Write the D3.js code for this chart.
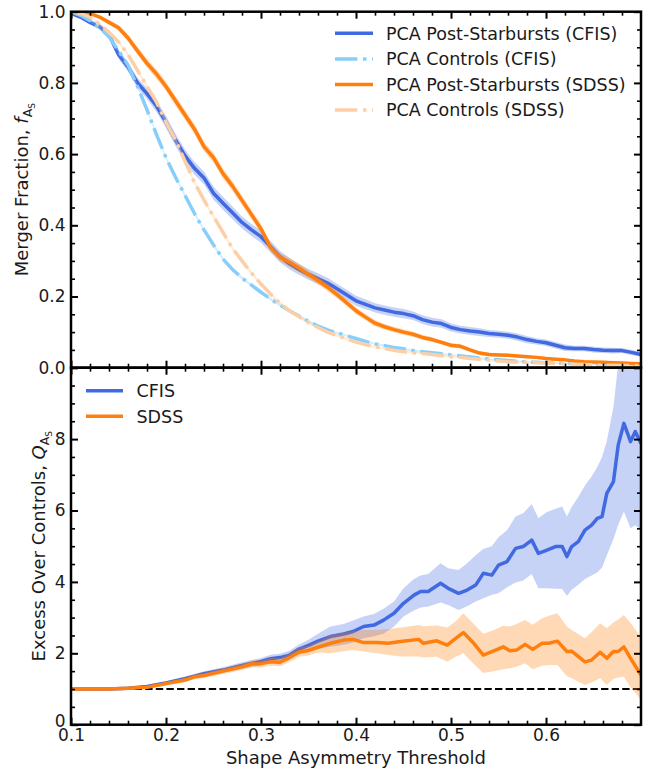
<!DOCTYPE html>
<html><head><meta charset="utf-8">
<script src="https://cdn.jsdelivr.net/npm/d3@7"></script>
<style>
html,body{margin:0;padding:0;background:#fff;}
svg{display:block;font-family:"DejaVu Sans",sans-serif;}
</style></head>
<body><svg id="c" width="660" height="775"></svg>
<script>
// ---------------- DATA ----------------
const thresholds = [0.10,0.11,0.12,0.13,0.14,0.15,0.16,0.17,0.18,0.19,0.20,0.21,0.22,0.23,0.24,0.25,0.26,0.27,0.28,0.29,0.30,0.31,0.32,0.33,0.34,0.35,0.36,0.37,0.38,0.39,0.40,0.41,0.42,0.43,0.44,0.45,0.46,0.47,0.48,0.49,0.50,0.51,0.52,0.53,0.54,0.55,0.56,0.57,0.58,0.59,0.60,0.61,0.62,0.63,0.64,0.65,0.66,0.67,0.68,0.69,0.70];

const fPsbCfis = [0.995,0.985,0.97,0.958,0.935,0.88,0.845,0.80,0.77,0.735,
  0.69,0.64,0.595,0.56,0.533,0.49,0.462,0.435,0.408,0.387,
  0.368,0.34,0.312,0.292,0.276,0.262,0.25,0.238,0.222,0.205,
  0.188,0.178,0.168,0.162,0.156,0.152,0.146,0.135,0.128,0.124,
  0.113,0.107,0.103,0.10,0.096,0.094,0.091,0.086,0.079,0.074,
  0.07,0.063,0.056,0.054,0.054,0.051,0.049,0.048,0.048,0.043,0.037];
const errPsbCfis = [0.002,0.004,0.006,0.008,0.010,0.012,0.013,0.014,0.015,0.016,
  0.017,0.017,0.018,0.018,0.018,0.018,0.018,0.018,0.017,0.017,
  0.017,0.016,0.016,0.016,0.015,0.015,0.015,0.015,0.014,0.014,
  0.014,0.014,0.013,0.013,0.013,0.013,0.012,0.012,0.012,0.012,
  0.011,0.011,0.011,0.011,0.010,0.010,0.010,0.010,0.010,0.009,
  0.009,0.009,0.009,0.008,0.008,0.008,0.008,0.008,0.007,0.007,0.007];

const fCtrlCfis = [1.0,0.99,0.975,0.955,0.93,0.89,0.85,0.79,0.724,0.655,
  0.59,0.535,0.484,0.433,0.387,0.345,0.305,0.276,0.252,0.232,
  0.212,0.193,0.176,0.16,0.145,0.13,0.117,0.106,0.098,0.09,
  0.082,0.074,0.067,0.062,0.057,0.053,0.048,0.045,0.042,0.039,
  0.036,0.033,0.03,0.027,0.024,0.022,0.02,0.018,0.016,0.015,
  0.014,0.013,0.012,0.011,0.010,0.009,0.008,0.008,0.007,0.007,0.006];
const errCtrlCfis = [0.001,0.002,0.003,0.004,0.004,0.005,0.005,0.005,0.005,0.005,
  0.005,0.005,0.005,0.005,0.005,0.005,0.005,0.005,0.005,0.004,
  0.004,0.004,0.004,0.004,0.004,0.004,0.004,0.004,0.003,0.003,
  0.003,0.003,0.003,0.003,0.003,0.003,0.003,0.003,0.003,0.003,
  0.002,0.002,0.002,0.002,0.002,0.002,0.002,0.002,0.002,0.002,
  0.002,0.002,0.002,0.002,0.002,0.002,0.002,0.002,0.002,0.002,0.002];

const fPsbSdss = [1.0,1.0,0.995,0.985,0.97,0.955,0.926,0.89,0.855,0.825,
  0.79,0.75,0.71,0.67,0.621,0.59,0.545,0.51,0.47,0.43,
  0.39,0.338,0.31,0.296,0.28,0.262,0.245,0.226,0.205,0.183,
  0.16,0.142,0.125,0.115,0.107,0.10,0.094,0.085,0.079,0.071,
  0.063,0.06,0.05,0.041,0.037,0.036,0.035,0.033,0.031,0.029,
  0.026,0.024,0.022,0.019,0.017,0.016,0.015,0.014,0.013,0.012,0.011];
const errPsbSdss = [0.001,0.002,0.003,0.005,0.007,0.008,0.010,0.011,0.012,0.013,
  0.013,0.014,0.014,0.014,0.014,0.014,0.014,0.014,0.014,0.013,
  0.013,0.013,0.012,0.012,0.012,0.011,0.011,0.011,0.010,0.010,
  0.010,0.009,0.009,0.008,0.008,0.008,0.007,0.007,0.007,0.006,
  0.006,0.006,0.005,0.005,0.005,0.005,0.004,0.004,0.004,0.004,
  0.004,0.003,0.003,0.003,0.003,0.003,0.003,0.003,0.002,0.002,0.002];

const fCtrlSdss = [1.0,0.995,0.985,0.965,0.942,0.915,0.88,0.835,0.79,0.746,
  0.69,0.64,0.58,0.52,0.471,0.425,0.38,0.335,0.30,0.266,
  0.235,0.207,0.181,0.16,0.143,0.127,0.113,0.10,0.09,0.081,
  0.072,0.065,0.059,0.054,0.049,0.045,0.042,0.04,0.037,0.034,
  0.031,0.029,0.026,0.024,0.021,0.019,0.017,0.016,0.015,0.014,
  0.013,0.012,0.011,0.010,0.009,0.008,0.007,0.007,0.006,0.006,0.005];
const errCtrlSdss = [0.001,0.002,0.003,0.004,0.005,0.005,0.005,0.006,0.006,0.006,
  0.006,0.006,0.006,0.006,0.006,0.006,0.006,0.005,0.005,0.005,
  0.005,0.005,0.005,0.004,0.004,0.004,0.004,0.004,0.004,0.004,
  0.003,0.003,0.003,0.003,0.003,0.003,0.003,0.003,0.003,0.003,
  0.002,0.002,0.002,0.002,0.002,0.002,0.002,0.002,0.002,0.002,
  0.002,0.002,0.002,0.002,0.002,0.002,0.002,0.002,0.002,0.002,0.002];

// Excess over controls (bottom panel)
const qxCfis = [0.10,0.12,0.14,0.16,0.18,0.20,0.22,0.24,0.26,0.28,0.30,0.31,0.32,0.33,0.34,0.35,0.36,0.373,0.387,0.397,0.408,0.419,0.429,0.440,0.450,0.461,0.468,0.476,0.489,0.497,0.508,0.517,0.526,0.534,0.543,0.550,0.559,0.568,0.576,0.585,0.592,0.601,0.610,0.617,0.622,0.627,0.634,0.641,0.648,0.654,0.659,0.664,0.671,0.676,0.682,0.689,0.694,0.70];
const qCfis   = [1.0,1.0,1.0,1.02,1.07,1.17,1.29,1.43,1.53,1.66,1.77,1.85,1.88,1.95,2.12,2.22,2.34,2.47,2.54,2.61,2.75,2.79,2.93,3.12,3.40,3.63,3.73,3.73,3.96,3.82,3.68,3.77,3.91,4.24,4.19,4.47,4.57,4.94,4.99,5.17,4.80,4.89,4.99,4.99,4.71,4.99,5.13,5.45,5.59,5.78,5.83,6.48,6.81,7.83,8.44,7.93,8.21,7.88];
const qLoCfis = [1.0,0.99,0.98,0.99,1.03,1.12,1.23,1.36,1.45,1.57,1.67,1.74,1.77,1.83,1.99,2.06,2.14,2.18,2.24,2.30,2.42,2.48,2.55,2.75,3.03,3.20,3.28,3.31,3.42,3.35,3.21,3.32,3.45,3.54,3.64,3.68,3.85,3.98,4.04,4.22,3.82,3.82,3.81,3.80,3.61,3.78,3.92,4.08,4.18,4.26,4.40,4.75,5.20,5.60,5.97,5.50,5.59,5.45];
const qHiCfis = [1.0,1.01,1.02,1.05,1.11,1.22,1.35,1.50,1.61,1.75,1.87,1.96,1.99,2.07,2.25,2.38,2.55,2.75,2.82,2.92,3.03,3.10,3.25,3.45,3.82,4.08,4.18,4.22,4.52,4.38,4.33,4.52,4.75,4.92,5.00,5.25,5.45,5.83,5.92,6.18,5.78,5.96,6.05,6.11,5.83,6.10,6.38,6.70,6.95,7.22,7.50,7.95,8.90,10.1,11.0,11.0,11.0,11.0];

const qxSdss = [0.10,0.12,0.14,0.16,0.18,0.20,0.22,0.23,0.24,0.26,0.28,0.29,0.30,0.31,0.32,0.33,0.34,0.35,0.36,0.373,0.387,0.397,0.408,0.422,0.434,0.447,0.466,0.471,0.485,0.496,0.505,0.513,0.524,0.534,0.545,0.555,0.562,0.569,0.578,0.586,0.596,0.603,0.612,0.622,0.627,0.641,0.648,0.657,0.664,0.671,0.676,0.682,0.689,0.70];
const qSdss   = [1.0,1.0,1.0,1.02,1.05,1.15,1.25,1.34,1.38,1.50,1.62,1.70,1.71,1.76,1.75,1.88,2.03,2.08,2.17,2.28,2.37,2.39,2.30,2.30,2.28,2.33,2.39,2.28,2.35,2.23,2.42,2.58,2.28,1.95,2.07,2.18,2.07,2.09,2.25,2.11,2.28,2.28,2.34,2.05,2.06,1.76,1.81,2.03,1.86,2.05,2.05,2.18,1.86,1.39];
const qLoSdss = [1.0,0.99,0.98,0.99,1.01,1.10,1.19,1.27,1.31,1.42,1.53,1.60,1.61,1.65,1.64,1.76,1.90,1.94,2.02,2.00,2.06,2.09,2.05,2.00,1.95,1.91,1.91,1.88,1.90,1.76,1.90,2.00,1.70,1.45,1.50,1.55,1.58,1.62,1.72,1.55,1.65,1.67,1.67,1.36,1.30,1.11,1.18,1.30,1.11,1.28,1.32,1.34,1.05,0.70];
const qHiSdss = [1.0,1.01,1.02,1.05,1.09,1.20,1.31,1.41,1.45,1.58,1.71,1.80,1.81,1.87,1.86,2.00,2.16,2.22,2.33,2.51,2.58,2.62,2.65,2.65,2.68,2.72,2.79,2.76,2.78,2.72,2.90,3.12,2.82,2.55,2.65,2.77,2.75,2.82,2.93,2.80,2.98,3.05,3.12,2.75,2.65,2.42,2.60,2.84,2.70,2.86,2.95,3.07,2.85,2.45];

const xTickVals = [0.1,0.2,0.3,0.4,0.5,0.6];
const topYTickVals = [0.0,0.2,0.4,0.6,0.8,1.0];
const botYTickVals = [0,2,4,6,8,10];
const botYTickLabels = ["0","2","4","6","8",""];

const topLegend = ["PCA Post-Starbursts (CFIS)","PCA Controls (CFIS)","PCA Post-Starbursts (SDSS)","PCA Controls (SDSS)"];
const botLegend = ["CFIS","SDSS"];

// ---------------- STYLE / LAYOUT ----------------
const C_BLUE = "#4169e1", C_LBLUE = "#87cefa", C_ORANGE = "#ff7f0e", C_PEACH = "#fdcfa6";
const L = 71, R = 641, T1 = 11.7, B1 = 367.7, T2 = 367.7, B2 = 724.7;
const TXT = "#1a1a1a";
const FS_TICK = 17, FS_LAB = 18, FS_LEG = 17.5;
const DASHDOT = "22.4,5.6,3.5,5.6";

const svg = d3.select("#c");
const x = d3.scaleLinear().domain([0.1, 0.7]).range([L, R]);
const yTop = d3.scaleLinear().domain([0, 1]).range([B1, T1]);
const yBot = d3.scaleLinear().domain([0, 10]).range([B2, T2]);

const defs = svg.append("defs");
defs.append("clipPath").attr("id","clipTop").append("rect").attr("x",L).attr("y",T1).attr("width",R-L).attr("height",B1-T1);
defs.append("clipPath").attr("id","clipBot").append("rect").attr("x",L).attr("y",T2).attr("width",R-L).attr("height",B2-T2);

// ---------- top panel ----------
const gTop = svg.append("g").attr("clip-path","url(#clipTop)");
function topSeries(vals, errs, color, bandOpacity, dash) {
  const pts = thresholds.map((t,i)=>({x:t, y:vals[i], e:errs[i]}));
  gTop.append("path").datum(pts)
    .attr("d", d3.area().x(d=>x(d.x)).y0(d=>yTop(d.y-d.e)).y1(d=>yTop(Math.min(d.y+d.e,1.02))))
    .attr("fill", color).attr("fill-opacity", bandOpacity).attr("stroke","none");
  gTop.append("path").datum(pts)
    .attr("d", d3.line().x(d=>x(d.x)).y(d=>yTop(d.y)))
    .attr("fill","none").attr("stroke",color).attr("stroke-width",3.5)
    .attr("stroke-dasharray", dash || null).attr("stroke-linejoin","round");
}
topSeries(fPsbCfis, errPsbCfis, C_BLUE, 0.3);
topSeries(fCtrlCfis, errCtrlCfis, C_LBLUE, 0.35, DASHDOT);
topSeries(fPsbSdss, errPsbSdss, C_ORANGE, 0.3);
topSeries(fCtrlSdss, errCtrlSdss, C_PEACH, 0.4, DASHDOT);

// ---------- bottom panel ----------
const gBot = svg.append("g").attr("clip-path","url(#clipBot)");
gBot.append("line").attr("x1",x(0.1)).attr("x2",x(0.7)).attr("y1",yBot(1)).attr("y2",yBot(1))
  .attr("stroke","#000").attr("stroke-width",2).attr("stroke-dasharray","7.4,3.2");
function botSeries(xs, q, lo, hi, color, bandColor, bandOpacity) {
  const pts = xs.map((t,i)=>({x:t, q:q[i], lo:lo[i], hi:hi[i]}));
  gBot.append("path").datum(pts)
    .attr("d", d3.area().x(d=>x(d.x)).y0(d=>yBot(d.lo)).y1(d=>yBot(d.hi)))
    .attr("fill", bandColor).attr("fill-opacity", bandOpacity);
  gBot.append("path").datum(pts)
    .attr("d", d3.line().x(d=>x(d.x)).y(d=>yBot(d.q)))
    .attr("fill","none").attr("stroke",color).attr("stroke-width",3.5).attr("stroke-linejoin","round");
}
botSeries(qxCfis, qCfis, qLoCfis, qHiCfis, C_BLUE, C_BLUE, 0.3);
botSeries(qxSdss, qSdss, qLoSdss, qHiSdss, C_ORANGE, C_ORANGE, 0.3);

// ---------- axes ----------
function styleAxis(g) {
  g.select(".domain").remove();
  g.selectAll(".tick line").attr("stroke","#000");
  g.selectAll(".tick text").attr("fill",TXT).attr("font-size",FS_TICK).attr("font-family","DejaVu Sans");
}
function addAxis(axisFn, scale, vals, pos, major, labels) {
  const ax = axisFn(scale).tickValues(vals).tickSizeInner(major ? -7 : -4).tickSizeOuter(0);
  if (labels === null) ax.tickFormat(()=>"");
  else ax.tickFormat(labels);
  const g = svg.append("g").attr("transform", pos).call(ax);
  styleAxis(g);
  g.selectAll(".tick line").attr("stroke-width", major ? 2 : 1.6);
  return g;
}
// minor tick positions
const xMinor = [0.12,0.14,0.16,0.18,0.22,0.24,0.26,0.28,0.32,0.34,0.36,0.38,0.42,0.44,0.46,0.48,0.52,0.54,0.56,0.58,0.62,0.64,0.66,0.68];
const topYMinor = [0.05,0.1,0.15,0.25,0.3,0.35,0.45,0.5,0.55,0.65,0.7,0.75,0.85,0.9,0.95];
const botYMinor = [0.5,1,1.5,2.5,3,3.5,4.5,5,5.5,6.5,7,7.5,8.5,9,9.5];

// top panel
addAxis(d3.axisLeft, yTop, topYTickVals, `translate(${L},0)`, true, d3.format(".1f")).call(g=>g.selectAll(".tick text").attr("x",-5.5));
addAxis(d3.axisLeft, yTop, topYMinor, `translate(${L},0)`, false, null);
addAxis(d3.axisRight, yTop, topYTickVals, `translate(${R},0)`, true, null);
addAxis(d3.axisRight, yTop, topYMinor, `translate(${R},0)`, false, null);
addAxis(d3.axisTop, x, xTickVals, `translate(0,${T1})`, true, null);
addAxis(d3.axisTop, x, xMinor, `translate(0,${T1})`, false, null);
addAxis(d3.axisBottom, x, xTickVals, `translate(0,${B1})`, true, null);
addAxis(d3.axisBottom, x, xMinor, `translate(0,${B1})`, false, null);
// bottom panel
addAxis(d3.axisLeft, yBot, botYTickVals, `translate(${L},0)`, true, (d,i)=>botYTickLabels[i])
  .call(g=>g.selectAll(".tick text").attr("x",-5.5).attr("dy",(d)=> d===0 ? "0.1em" : "0.32em"));
addAxis(d3.axisLeft, yBot, botYMinor, `translate(${L},0)`, false, null);
addAxis(d3.axisRight, yBot, botYTickVals, `translate(${R},0)`, true, null);
addAxis(d3.axisRight, yBot, botYMinor, `translate(${R},0)`, false, null);
addAxis(d3.axisTop, x, xTickVals, `translate(0,${T2})`, true, null);
addAxis(d3.axisTop, x, xMinor, `translate(0,${T2})`, false, null);
addAxis(d3.axisBottom, x, xTickVals, `translate(0,${B2})`, true, d3.format(".1f")).call(g=>g.selectAll(".tick text").attr("y",4.5));
addAxis(d3.axisBottom, x, xMinor, `translate(0,${B2})`, false, null);

// spines
[[T1,B1],[T2,B2]].forEach(([t,b])=>{
  svg.append("rect").attr("x",L).attr("y",t).attr("width",R-L).attr("height",b-t)
    .attr("fill","none").attr("stroke","#000").attr("stroke-width",2.5);
});

// ---------- labels ----------
svg.append("text").attr("x",(L+R)/2).attr("y",764).attr("text-anchor","middle")
  .attr("font-size",FS_LAB).attr("fill",TXT).text("Shape Asymmetry Threshold");

function yLabel(cx, cy, main, sym) {
  const t = svg.append("text").attr("transform",`translate(${cx},${cy}) rotate(-90)`)
    .attr("text-anchor","middle").attr("font-size",FS_LAB).attr("fill",TXT);
  t.append("tspan").text(main);
  t.append("tspan").attr("font-style","italic").text(sym);
  t.append("tspan").attr("font-size",12.5).attr("dy",4).text("A");
  t.append("tspan").attr("font-size",9).attr("dy",2.5).text("S");
}
yLabel(28, 189.7, "Merger Fraction, ", "f");
yLabel(45, 546.2, "Excess Over Controls, ", "Q");

// ---------- legends ----------
const topLegStyle = [[C_BLUE,null],[C_LBLUE,DASHDOT],[C_ORANGE,null],[C_PEACH,DASHDOT]];
topLegend.forEach((lab,i)=>{
  const yy = 33.3 + i*25.6;
  svg.append("line").attr("x1",335).attr("x2",373).attr("y1",yy).attr("y2",yy)
    .attr("stroke",topLegStyle[i][0]).attr("stroke-width",3.5).attr("stroke-dasharray",topLegStyle[i][1]);
  svg.append("text").attr("x",386).attr("y",yy+6.3).attr("font-size",FS_LEG).attr("fill",TXT).text(lab);
});
const botLegColor = [C_BLUE, C_ORANGE];
botLegend.forEach((lab,i)=>{
  const yy = 390.7 + i*25.5;
  svg.append("line").attr("x1",86).attr("x2",123).attr("y1",yy).attr("y2",yy)
    .attr("stroke",botLegColor[i]).attr("stroke-width",3.5);
  svg.append("text").attr("x",136.5).attr("y",yy+6.3).attr("font-size",FS_LEG).attr("fill",TXT).text(lab);
});
</script>
</body></html>
